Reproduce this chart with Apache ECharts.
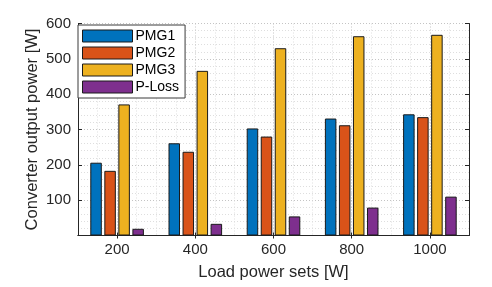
<!DOCTYPE html>
<html>
<head>
<meta charset="utf-8">
<script src="https://cdn.jsdelivr.net/npm/echarts@6/dist/echarts.min.js"></script>
<style>
html,body{margin:0;padding:0;background:#fff;}
#chart{width:492px;height:287px;}
</style>
</head>
<body>
<div id="chart"></div>
<script>
var categories = ['200', '400', '600', '800', '1000'];
var seriesNames = ['PMG1', 'PMG2', 'PMG3', 'P-Loss'];
var pmg1 = [206, 261, 303, 331, 343];
var pmg2 = [183, 237, 280, 312, 335];
var pmg3 = [371, 466, 530, 564, 568];
var pLoss = [19, 33, 54, 79, 110];
var yTicks = [0, 100, 200, 300, 400, 500, 600];
var xTitle = 'Load power sets [W]';
var yTitle = 'Converter output power [W]';

var colors = ['#0072BD', '#D95319', '#EDB120', '#7E2F8E'];
var values = [pmg1, pmg2, pmg3, pLoss];
var font = 'Liberation Sans, Arial, Helvetica, sans-serif';
var axisColor = '#262626';
var majorGrid = '#c4c4c4';
var minorGrid = '#dedede';

var chart = echarts.init(document.getElementById('chart'), null, {renderer: 'canvas'});

var series = seriesNames.map(function (name, i) {
  return {
    name: name,
    type: 'bar',
    xAxisIndex: 0,
    yAxisIndex: 0,
    data: values[i],
    barWidth: 11.5,
    barGap: '22%',
    itemStyle: {color: colors[i], borderColor: '#1a1a1a', borderWidth: 1},
    emphasis: {disabled: true},
    animation: false,
    z: 3
  };
});

chart.setOption({
  animation: false,
  backgroundColor: '#fff',
  grid: {left: 78, right: 23, top: 23.5, bottom: 51.5, containLabel: false},
  legend: {
    orient: 'vertical',
    left: 78,
    top: 25,
    data: seriesNames,
    icon: 'rect',
    itemWidth: 50,
    itemHeight: 12,
    itemGap: 2,
    padding: [3.5, 6, 3.5, 4],
    backgroundColor: '#fff',
    borderColor: '#3a3a3a',
    borderWidth: 1,
    borderRadius: 0,
    selectedMode: false,
    itemStyle: {borderColor: '#1a1a1a', borderWidth: 1},
    textStyle: {fontFamily: font, fontSize: 14, color: '#000', lineHeight: 15, padding: [0, 0, 0, -2]},
    z: 10
  },
  xAxis: [
    {
      type: 'category',
      position: 'bottom',
      data: categories,
      name: xTitle,
      nameLocation: 'middle',
      nameGap: 28,
      nameMoveOverlap: false,
      nameTextStyle: {fontFamily: font, fontSize: 16.5, color: axisColor},
      axisLine: {show: true, lineStyle: {color: axisColor, width: 1}},
      axisTick: {show: true, inside: true, alignWithLabel: true, length: 3, lineStyle: {color: axisColor}},
      axisLabel: {fontFamily: font, fontSize: 15, color: axisColor, margin: 7},
      splitLine: {show: false}
    },
    {
      type: 'category',
      position: 'top',
      data: categories,
      axisLine: {show: true, lineStyle: {color: axisColor, width: 1}},
      axisTick: {show: true, inside: true, alignWithLabel: true, length: 3, lineStyle: {color: axisColor}},
      axisLabel: {show: false},
      splitLine: {show: false}
    },
    {
      type: 'value',
      position: 'bottom',
      min: 100,
      max: 1100,
      interval: 50,
      axisLine: {show: false},
      axisTick: {show: false},
      axisLabel: {show: false},
      splitLine: {show: true, lineStyle: {color: [minorGrid, minorGrid, majorGrid, minorGrid], type: [1, 2], width: 1}},
      z: 0
    }
  ],
  yAxis: [
    {
      type: 'value',
      position: 'left',
      min: yTicks[0],
      max: yTicks[yTicks.length - 1],
      interval: 100,
      name: yTitle,
      nameLocation: 'middle',
      nameGap: 37,
      nameMoveOverlap: false,
      nameTextStyle: {fontFamily: font, fontSize: 16.5, color: axisColor},
      axisLine: {show: true, lineStyle: {color: axisColor, width: 1}},
      axisTick: {show: true, inside: true, length: 4, lineStyle: {color: axisColor}},
      axisLabel: {fontFamily: font, fontSize: 15, color: axisColor, margin: 7, showMinLabel: false},
      splitLine: {show: true, lineStyle: {color: majorGrid, type: [1, 2], width: 1}},
      minorTick: {show: false, splitNumber: 5},
      minorSplitLine: {show: true, lineStyle: {color: minorGrid, type: [1, 2], width: 1}}
    },
    {
      type: 'value',
      position: 'right',
      min: yTicks[0],
      max: yTicks[yTicks.length - 1],
      interval: 100,
      axisLine: {show: true, lineStyle: {color: axisColor, width: 1}},
      axisTick: {show: true, inside: true, length: 4, lineStyle: {color: axisColor}},
      axisLabel: {show: false},
      splitLine: {show: false}
    }
  ],
  series: series
});
</script>
</body>
</html>
